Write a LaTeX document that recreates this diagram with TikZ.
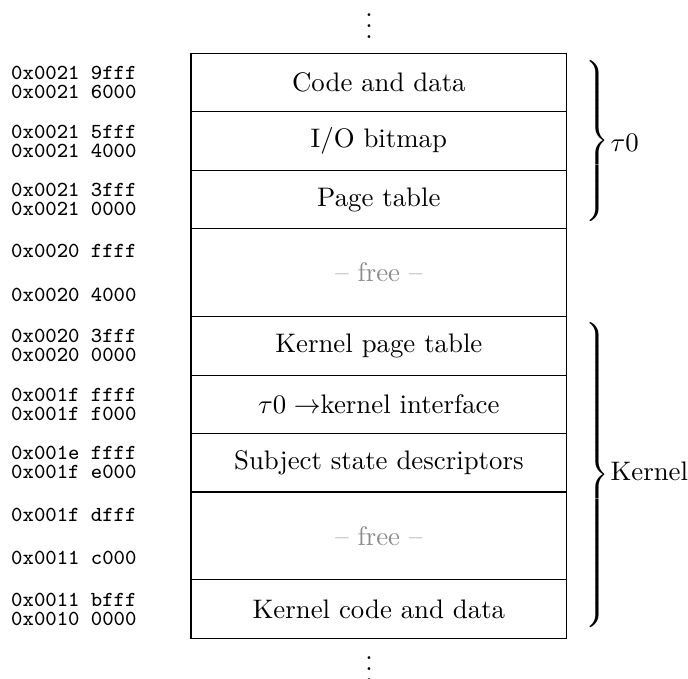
\documentclass[tikz,border=0pt]{standalone}
\begin{document}
% Memory layout: one column of regions, addresses on the left, groups braced on the right.
\begin{tikzpicture}[x=0.3731pt, y=-0.3731pt,
  cell/.style={draw, inner sep=0pt, minimum width=140.17pt, minimum height=21.83pt},
  freecell/.style={cell, minimum height=32.74pt, text=black!45},
  addr/.style={anchor=west, inner sep=0pt, font=\footnotesize\ttfamily},
  vdotsmark/.style={anchor=north, inner sep=0pt},
  grpbrace/.style={anchor=west, inner sep=0pt},
  grplabel/.style={anchor=west, inner sep=0pt}]
\useasboundingbox (0,0) rectangle (688,679);

% regions
\node[cell]     (c1) at (378.85, 82.55)  {Code and data};
\node[cell]     (c2) at (378.85, 141.05) {I/O bitmap};
\node[cell]     (c3) at (378.85, 199.55) {Page table};
\node[freecell] (c4) at (378.85, 272.70) {-- free --};
\node[cell]     (c5) at (378.85, 345.80) {Kernel page table};
\node[cell]     (c6) at (378.85, 404.30) {$\tau0 \rightarrow$kernel interface};
\node[cell]     (c7) at (378.85, 462.80) {Subject state descriptors};
\node[freecell] (c8) at (378.85, 535.90) {-- free --};
\node[cell]     (c9) at (378.85, 609.05) {Kernel code and data};

% addresses
\node[addr] (a1t) at (10.7, 73.05)  {0x0021 9fff};
\node[addr] (a1b) at (10.7, 92.15)  {0x0021 6000};
\node[addr] (a2t) at (10.7, 131.55) {0x0021 5fff};
\node[addr] (a2b) at (10.7, 150.65) {0x0021 4000};
\node[addr] (a3t) at (10.7, 190.05) {0x0021 3fff};
\node[addr] (a3b) at (10.7, 209.15) {0x0021 0000};
\node[addr] (a4t) at (10.7, 251.40) {0x0020 ffff};
\node[addr] (a4b) at (10.7, 294.70) {0x0020 4000};
\node[addr] (a5t) at (10.7, 336.30) {0x0020 3fff};
\node[addr] (a5b) at (10.7, 355.40) {0x0020 0000};
\node[addr] (a6t) at (10.7, 394.80) {0x001f ffff};
\node[addr] (a6b) at (10.7, 413.90) {0x001f f000};
\node[addr] (a7t) at (10.7, 453.30) {0x001e ffff};
\node[addr] (a7b) at (10.7, 472.40) {0x001f e000};
\node[addr] (a8t) at (10.7, 514.60) {0x001f dfff};
\node[addr] (a8b) at (10.7, 557.90) {0x0011 c000};
\node[addr] (a9t) at (10.7, 599.55) {0x0011 bfff};
\node[addr] (a9b) at (10.7, 618.65) {0x0010 0000};

% continuation marks
\node[vdotsmark] (dtop) at (369, -2.5)  {$\vdots$};
\node[vdotsmark] (dbot) at (369, 640.5) {$\vdots$};

% groups
\node[grpbrace] (bT) at (582, 140.9) {$\left.\vcenter{\hbox{\vrule height 62pt width 0pt}}\right\}$};
\node[grplabel] (lT) at (610, 142.5) {$\tau0$};
\node[grpbrace] (bK) at (582, 475.0) {$\left.\vcenter{\hbox{\vrule height 115pt width 0pt}}\right\}$};
\node[grplabel] (lK) at (610, 471.7) {Kernel};
\end{tikzpicture}
\end{document}
